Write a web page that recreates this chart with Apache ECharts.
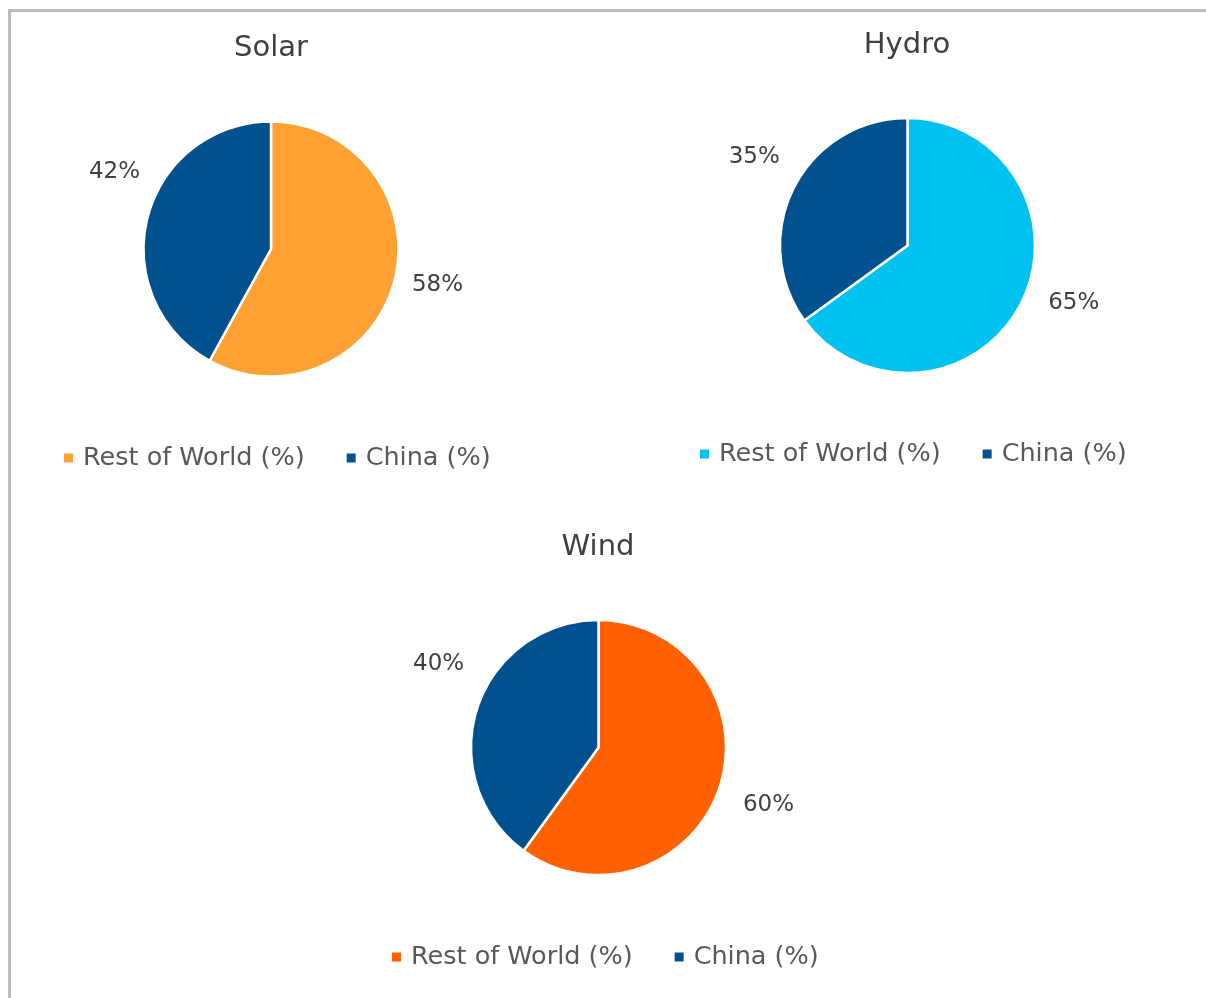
<!DOCTYPE html>
<html><head><meta charset="utf-8">
<script src="https://cdn.jsdelivr.net/npm/echarts@6/dist/echarts.min.js"></script>
<style>html,body{margin:0;padding:0;background:#fff;}#c{width:1206px;height:998px;}</style>
</head><body><div id="c"></div>
<script>
const categories = ['Rest of World (%)', 'China (%)'];
const chartTitles = ['Solar', 'Hydro', 'Wind'];
const solarValues = [58, 42];
const hydroValues = [65, 35];
const windValues = [60, 40];

const navy = '#00518E';
const palettes = [['#FFA133', navy], ['#00C1F0', navy], ['#FF6000', navy]];
const valueSets = [solarValues, hydroValues, windValues];
const centers = [[271, 249], [907.5, 245.5], [598.5, 747.5]];
const legendPos = [[62, 445], [698, 441], [390, 944]];
const titlePos = [[271, 34], [907, 31], [598, 533]];
const labelShift = [[[-5, 0], [15, -41]], [[6, -9], [7, -22]], [[1, 13], [9, -39]]];
const FONT = 'DejaVu Sans';

const chart = echarts.init(document.getElementById('c'), null, {renderer: 'canvas'});
const option = {
  backgroundColor: '#fff',
  animation: false,
  graphic: [{
    type: 'rect', shape: {x: 9.5, y: 10.5, width: 1300, height: 1100},
    style: {fill: 'none', stroke: '#BDBDBD', lineWidth: 3}, silent: true
  }],
  title: chartTitles.map((t, i) => ({
    text: t, left: titlePos[i][0], top: titlePos[i][1], textAlign: 'center', padding: 0,
    textStyle: {fontFamily: FONT, fontSize: 29, fontWeight: 'normal', color: '#404040'}
  })),
  legend: chartTitles.map((t, i) => ({
    seriesIndex: i, padding: 0,
    left: legendPos[i][0], top: legendPos[i][1], icon: 'rect', itemWidth: 11, itemHeight: 11,
    itemGap: 40,
    data: categories.map((c, k) => ({name: c, itemStyle: {color: palettes[i][k]}})),
    textStyle: {fontFamily: FONT, fontSize: 25.5, color: '#595959', padding: [0, 0, 0, 4]},
    selectedMode: false
  })),
  series: chartTitles.map((t, i) => ({
    type: 'pie', name: t, center: centers[i], radius: 127.5,
    startAngle: 90, clockwise: true, avoidLabelOverlap: false,
    itemStyle: {borderColor: '#fff', borderWidth: 2.5},
    label: {show: true, position: 'outside', formatter: '{c}%', fontFamily: FONT, fontSize: 23, color: '#404040'},
    labelLine: {show: false, length: 18, length2: 0},
    labelLayout: (p) => ({dx: labelShift[i][p.dataIndex][0], dy: labelShift[i][p.dataIndex][1]}),
    emphasis: {disabled: true},
    data: categories.map((c, k) => ({name: c, value: valueSets[i][k], itemStyle: {color: palettes[i][k]}}))
  }))
};
chart.setOption(option);
</script></body></html>
